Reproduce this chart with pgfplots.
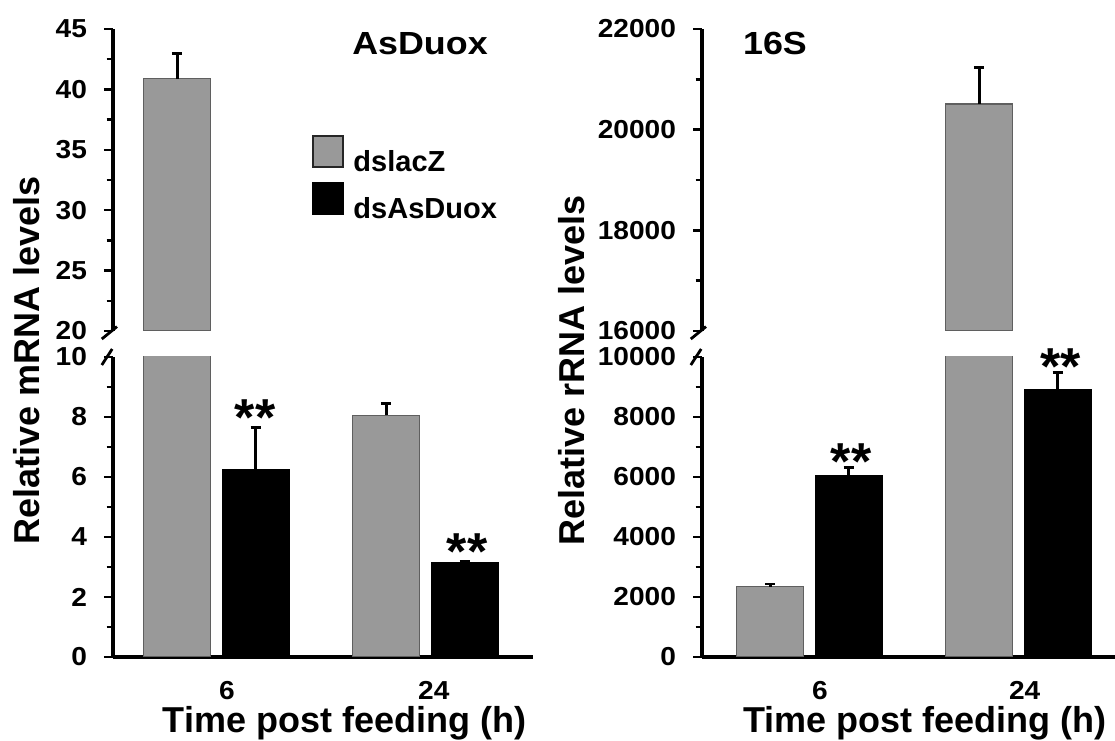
\documentclass[border=0pt]{standalone}
\usepackage{pgfplots}
\usepackage{pgfplotstable}
\pgfplotsset{compat=1.18}
\usepackage{fontspec}
\setmainfont{Liberation Sans}
\newfontfamily\widefont{Liberation Sans}[FakeStretch=1.08]
\newfontfamily\titlefont{Liberation Sans}[FakeStretch=1.12]

\definecolor{barGray}{RGB}{153,153,153}
\definecolor{barEdge}{RGB}{95,95,95}

\tikzset{
  sigstar/.style={font=\fontsize{26}{30}\selectfont\bfseries, inner sep=0pt, anchor=north},
  breakmark/.style={line width=1.4pt, black},
}

\pgfplotsset{
  brk/.style={
    scale only axis,
    clip mode=individual,
    axis line style={-, line width=1.6pt},
    every tick/.style={black, line width=1.2pt},
    tick align=outside,
    major tick length=4.5pt,
    minor tick length=3.2pt,
    xtick style={draw=none},
    /pgf/number format/assume math mode=true,
    /pgf/number format/1000 sep={},
    scaled y ticks=false,
    yticklabel style={font=\widefont\fontsize{13}{15}\selectfont\bfseries, xshift=-5pt},
    xticklabel style={font=\widefont\fontsize{13}{15}\selectfont\bfseries, anchor=north, inner sep=0pt, yshift=-7.5pt},
  },
  errs/.style={
    error bars/y dir=plus,
    error bars/y explicit,
    error bars/error bar style={line width=1.4pt, black},
    error bars/error mark options={rotate=90, line width=1.4pt, mark size=2.6pt, black},
  },
  gbar/.style={ybar, bar width=0.32, bar shift=0, fill=barGray, draw=barEdge, line width=0.6pt,
    legend image code/.code={\draw[#1, draw=black!85, line width=1pt] (0pt,-2.55pt) rectangle (15pt,12.95pt);},
    errs},
  kbar/.style={ybar, bar width=0.32, bar shift=0, fill=black, draw=black, line width=0.6pt,
    legend image code/.code={\draw[#1, draw=black, line width=1pt] (0pt,-2.55pt) rectangle (15pt,12.95pt);},
    errs},
}

% bars sit at group position -/+ 0.188 (6 h at 0, 24 h at 1)
\pgfplotstableread{
x      y      e
-0.188 40.9   2.05
0.812  8.05   0.4
}\duoxLacZ
\pgfplotstableread{
x      y      e
0.188  6.25   1.4
1.188  3.13   0.07
}\duoxKD
\pgfplotstableread{
x      y      e
-0.188 2340   90
0.812  20510  720
}\rnaLacZ
\pgfplotstableread{
x      y      e
0.188  6060   260
1.188  8900   590
}\rnaKD

\begin{document}
\begin{tikzpicture}
\useasboundingbox (0,0) rectangle (557.5pt,370pt);

% ---------------- AsDuox: lower segment (0-10)
\begin{axis}[brk, at={(56.5pt,41.5pt)}, anchor=south west,
  width=210pt, height=150pt,
  xmin=-0.495, xmax=1.5146, ymin=0, ymax=10,
  axis x line*=bottom, axis y line*=left,
  xtick={0.05,1.04}, xticklabels={6,24},
  ytick={0,2,...,10}, minor ytick={1,3,...,9}]
  \addplot[gbar] table[x=x, y=y, y error=e] {\duoxLacZ};
  \addplot[kbar] table[x=x, y=y, y error=e] {\duoxKD};
  \node[sigstar] at (axis cs:0.185,8.6) {**};
  \node[sigstar] at (axis cs:1.199,4.13) {**};
  \draw[breakmark] (rel axis cs:0,1) ++(-5.6pt,-4pt) -- ++(5.2pt,8pt);
\end{axis}

% ---------------- AsDuox: upper segment (20-45)
\begin{axis}[brk, at={(56.5pt,204.5pt)}, anchor=south west,
  width=210pt, height=151pt,
  xmin=-0.495, xmax=1.5146, ymin=20, ymax=45,
  restrict y to domain=20:45,
  axis x line=none, axis y line*=left,
  ytick={20,25,...,45}, minor ytick={22.5,27.5,...,42.5},
  legend cell align=left,
  legend style={at={(0.474,0.649)}, anchor=north west, draw=none, fill=none,
    inner sep=0pt, row sep=4pt,
    nodes={inner ysep=0pt, inner xsep=4.5pt},
    font=\fontsize{14.5}{17}\selectfont\bfseries}]
  \addplot[gbar] table[x=x, y=y, y error=e] {\duoxLacZ};
  \addlegendentry{dslacZ}
  \addplot[kbar, forget plot] table[x=x, y=y, y error=e] {\duoxKD};
  \addlegendimage{kbar}
  \addlegendentry{dsAsDuox}
  \draw[breakmark] (rel axis cs:0,0) ++(-5.6pt,-4pt) -- ++(7.6pt,6.2pt);
\end{axis}

% ---------------- 16S: lower segment (0-10000)
\begin{axis}[brk, at={(351pt,41.5pt)}, anchor=south west,
  width=206.5pt, height=150pt,
  xmin=-0.514, xmax=1.462, ymin=0, ymax=10000,
  axis x line*=bottom, axis y line*=left,
  xtick={0.05,1.03}, xticklabels={6,24},
  ytick={0,2000,...,10000}, minor ytick={1000,3000,...,9000}]
  \addplot[gbar] table[x=x, y=y, y error=e] {\rnaLacZ};
  \addplot[kbar] table[x=x, y=y, y error=e] {\rnaKD};
  \node[sigstar] at (axis cs:0.199,7133) {**};
  \node[sigstar] at (axis cs:1.2,10300) {**};
  \draw[breakmark] (rel axis cs:0,1) ++(-5.6pt,-4pt) -- ++(5.2pt,8pt);
\end{axis}

% ---------------- 16S: upper segment (16000-22000)
\begin{axis}[brk, at={(351pt,204.5pt)}, anchor=south west,
  width=206.5pt, height=151pt,
  xmin=-0.514, xmax=1.462, ymin=16000, ymax=22000,
  restrict y to domain=16000:22000,
  axis x line=none, axis y line*=left,
  ytick={16000,18000,20000,22000}, minor ytick={17000,19000,21000}]
  \addplot[gbar] table[x=x, y=y, y error=e] {\rnaLacZ};
  \addplot[kbar] table[x=x, y=y, y error=e] {\rnaKD};
  \draw[breakmark] (rel axis cs:0,0) ++(-5.6pt,-4pt) -- ++(7.6pt,6.2pt);
\end{axis}

% titles and axis labels
\node[font=\titlefont\fontsize{16}{19}\selectfont\bfseries] at (210pt,348pt) {AsDuox};
\node[font=\titlefont\fontsize{16}{19}\selectfont\bfseries] at (387.5pt,348.5pt) {16S};
\node[font=\fontsize{18}{21}\selectfont\bfseries, rotate=90] at (13.5pt,190pt) {Relative mRNA levels};
\node[font=\fontsize{18}{21}\selectfont\bfseries, rotate=90] at (286pt,185pt) {Relative rRNA levels};
\node[font=\fontsize{18}{21}\selectfont\bfseries] at (172.25pt,8.5pt) {Time post feeding (h)};
\node[font=\fontsize{18}{21}\selectfont\bfseries] at (462.5pt,8.5pt) {Time post feeding (h)};
\end{tikzpicture}
\end{document}
